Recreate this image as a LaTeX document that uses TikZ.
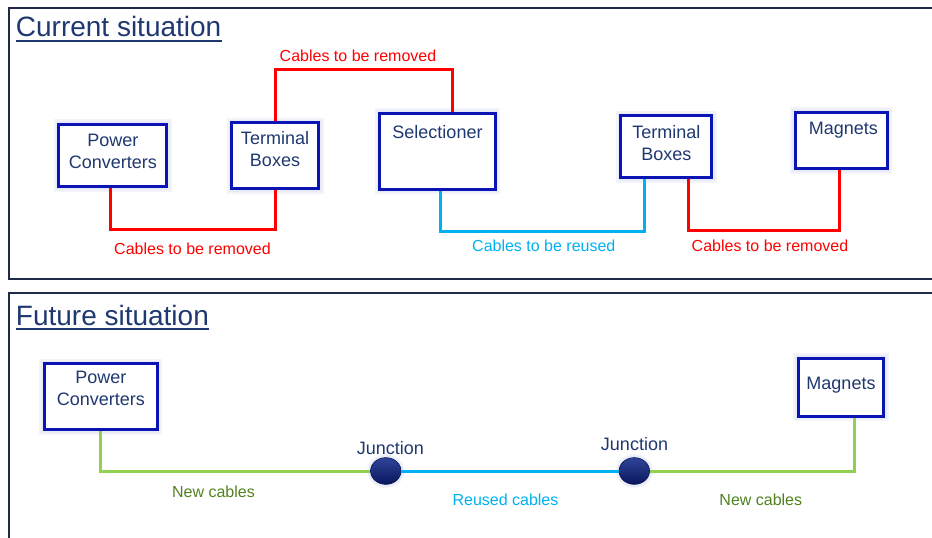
\documentclass[tikz,border=0pt]{standalone}
\usepackage{fontspec}
\setmainfont{Liberation Sans}
\usepackage{xcolor}
\usepackage{tikz}
\usetikzlibrary{shapes,arrows,positioning,calc}

\definecolor{boxblue}{RGB}{10,20,180}
\definecolor{navytext}{RGB}{31,56,112}
\definecolor{framecol}{RGB}{30,42,72}
\definecolor{cabred}{RGB}{255,0,0}
\definecolor{cabblue}{RGB}{0,176,240}
\definecolor{cabgreen}{RGB}{146,208,80}
\definecolor{greentext}{RGB}{80,130,30}
\definecolor{glowout}{RGB}{243,244,250}
\definecolor{glowin}{RGB}{232,235,245}
\definecolor{junctop}{RGB}{48,68,152}
\definecolor{juncmid}{RGB}{14,30,112}
\definecolor{juncbot}{RGB}{8,22,92}

\begin{document}
\begin{tikzpicture}[x=1pt, y=-1pt,
    box/.style={draw=boxblue, line width=3pt, fill=white, rectangle, inner sep=0pt,
        preaction={draw=glowout, line width=10pt}, preaction={draw=glowin, line width=6pt}},
    every label/.style={align=center, text=navytext, font=\fontsize{18}{22}\selectfont, inner sep=0pt},
    junc/.style={ellipse, minimum width=30.5pt, minimum height=26.7pt, inner sep=0pt,
        draw=juncbot, line width=0.6pt, top color=junctop, middle color=juncmid, bottom color=juncbot,
        preaction={draw=glowout, line width=7pt}, preaction={draw=glowin, line width=4pt}},
    frame/.style={draw=framecol, line width=1.8pt},
    title/.style={anchor=base west, inner sep=0pt, text=navytext, font=\fontsize{28}{34}\selectfont},
    removed/.style={cabred, line width=3pt},
    reused/.style={cabblue, line width=3pt},
    newcab/.style={cabgreen, line width=3pt},
    cablbl/.style={anchor=base, inner sep=0pt, font=\fontsize{16}{19}\selectfont},
    junclbl/.style={anchor=base, inner sep=0pt, text=navytext, font=\fontsize{18}{22}\selectfont}]

    \useasboundingbox (0,0) rectangle (932,538);

    % Panels
    \draw[frame] (940,8.3) -- (9.3,8.3) -- (9.3,279.3) -- (940,279.3);
    \draw[frame] (940,293.3) -- (9.3,293.3) -- (9.3,545);

    \node[title] (cur) at (15.7,36) {Current situation};
    \draw[navytext, line width=1.8pt] ([yshift=-4.7]cur.base west) -- ([yshift=-4.7]cur.base east);
    \node[title] (fut) at (15.7,325.7) {Future situation};
    \draw[navytext, line width=1.8pt] ([yshift=-3.6]fut.base west) -- ([yshift=-3.6]fut.base east);

    % Current situation
    \node[box, minimum width=108, minimum height=62.6, label={[yshift=3.8]center:{Power\\Converters}}] (pc1) at (112.8,155.5) {};
    \node[box, minimum width=87, minimum height=66, label={[yshift=6.5]center:{Terminal\\Boxes}}] (tb1) at (275,155.5) {};
    \node[box, minimum width=115.4, minimum height=76, label={[yshift=19]center:Selectioner}] (sel) at (437.5,151.2) {};
    \node[box, minimum width=91, minimum height=62.3, label={[yshift=3.4]center:{Terminal\\Boxes}}] (tb2) at (666.3,146.7) {};
    \node[box, minimum width=91.7, minimum height=56.6, label={[xshift=2, yshift=10]center:Magnets}] (mag1) at (841.3,140.5) {};

    % Cables
    \draw[removed] ([xshift=-2.8]pc1.south) -- ++(0,41.5) -| (tb1.south);
    \draw[removed] (tb1.north) -- ++(0,-51.8) -| ([xshift=15.2]sel.north);
    \draw[reused] ([xshift=2.5]sel.south) -- ++(0,40.8) -| ([xshift=-22]tb2.south);
    \draw[removed] ([xshift=22]tb2.south) -- ++(0,51.5) -| ([xshift=-2]mag1.south);

    \node[cablbl, text=cabred] (rm1) at (192.5,254) {Cables to be removed};
    \node[cablbl, text=cabred] (rm2) at (358,61.7) {Cables to be removed};
    \node[cablbl, text=cabblue] (ru1) at (543.8,251.7) {Cables to be reused};
    \node[cablbl, text=cabred] (rm3) at (770,251.7) {Cables to be removed};

    % Future situation
    \node[box, minimum width=113.3, minimum height=65.7, label={[yshift=8.7]center:{Power\\Converters}}] (pc2) at (100.8,396.7) {};
    \node[box, minimum width=85.6, minimum height=58, label={[yshift=2]center:Magnets}] (mag2) at (841,387.2) {};

    \node[junc] (j1) at (385.8,471) {};
    \node[junc] (j2) at (634.3,471) {};
    \node[junclbl] (jl1) at (390.3,454.3) {Junction};
    \node[junclbl] (jl2) at (634.5,450.7) {Junction};

    \draw[newcab] (pc2.south) |- (j1.west);
    \draw[reused] (j1.east) -- (j2.west);
    \draw[newcab] (j2.east) -| ([xshift=13]mag2.south);

    \node[cablbl, text=greentext] (nc1) at (213.5,497.5) {New cables};
    \node[cablbl, text=cabblue] (rc1) at (505.5,505) {Reused cables};
    \node[cablbl, text=greentext] (nc2) at (760.8,505) {New cables};
\end{tikzpicture}
\end{document}
